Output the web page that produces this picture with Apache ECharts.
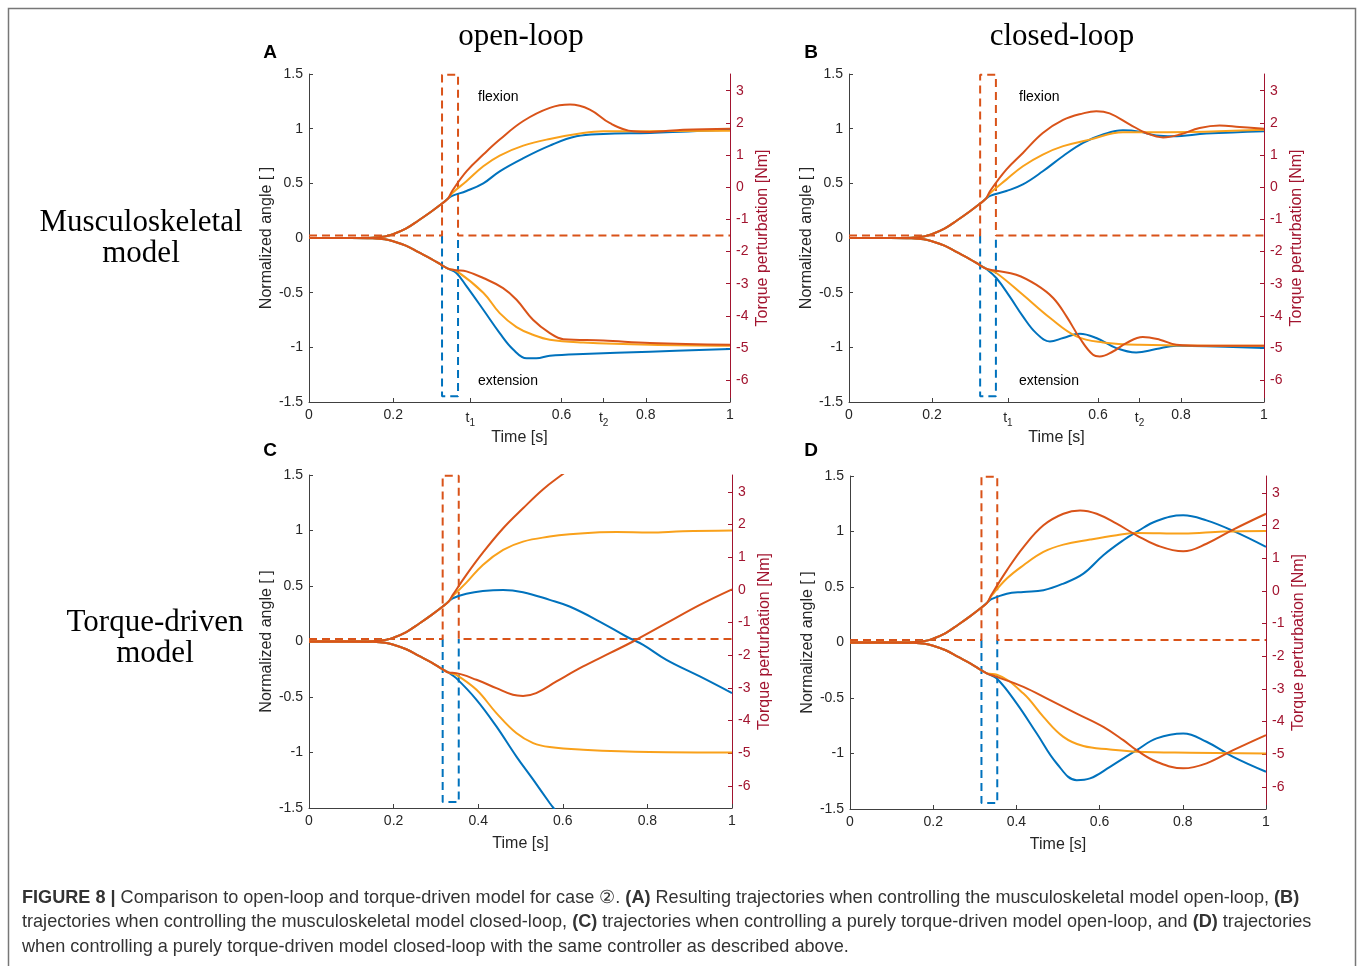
<!DOCTYPE html>
<html>
<head>
<meta charset="utf-8">
<script src="https://cdn.jsdelivr.net/npm/echarts@6/dist/echarts.min.js"></script>
<style>
  html, body { margin: 0; padding: 0; background: #fff; }
  #chart { width: 1360px; height: 966px; }
</style>
</head>
<body>
<div id="chart"></div>
<script>
// shared rise before the perturbation (time [s], normalized angle)
const riseFlex = [[0, 0], [0.1, 0], [0.15, 0.003], [0.18, 0.014], [0.2, 0.035], [0.23, 0.085], [0.26, 0.16], [0.29, 0.24], [0.316, 0.315], [0.33, 0.36]];
const riseExt = [[0, 0], [0.1, 0], [0.15, -0.003], [0.18, -0.012], [0.2, -0.03], [0.23, -0.07], [0.26, -0.13], [0.29, -0.19], [0.316, -0.25], [0.33, -0.28]];

// torque perturbation [Nm]
const torqueFlex = [[0, -1.5], [0.316, -1.5], [0.316, 3.5], [0.354, 3.5], [0.354, -1.5], [1, -1.5]];
const torqueExt = [[0.316, -1.5], [0.316, -6.5], [0.354, -6.5], [0.354, -1.5]];

// A: musculoskeletal, open-loop
const aBlueFlex = [[0.34, 0.385], [0.374, 0.43], [0.414, 0.5], [0.453, 0.61], [0.509, 0.73], [0.572, 0.845], [0.635, 0.93], [0.699, 0.952], [0.81, 0.96], [0.9, 0.975], [1, 0.99]];
const aOrangeFlex = [[0.34, 0.41], [0.374, 0.52], [0.414, 0.656], [0.453, 0.754], [0.509, 0.845], [0.572, 0.906], [0.651, 0.96], [0.699, 0.976], [0.8, 0.977], [1, 0.98]];
const aRedFlex = [[0.34, 0.43], [0.374, 0.61], [0.414, 0.763], [0.453, 0.9], [0.509, 1.07], [0.572, 1.19], [0.62, 1.22], [0.667, 1.175], [0.715, 1.05], [0.77, 0.976], [0.81, 0.97], [0.889, 0.99], [1, 1.0]];
const aBlueExt = [[0.35, -0.32], [0.374, -0.44], [0.414, -0.656], [0.453, -0.87], [0.485, -1.02], [0.517, -1.1], [0.54, -1.1], [0.572, -1.077], [0.651, -1.06], [0.81, -1.04], [1, -1.016]];
const aOrangeExt = [[0.35, -0.3], [0.414, -0.5], [0.453, -0.687], [0.493, -0.815], [0.532, -0.885], [0.572, -0.93], [0.651, -0.955], [0.81, -0.976], [1, -0.985]];
const aRedExt = [[0.35, -0.295], [0.374, -0.305], [0.414, -0.366], [0.461, -0.458], [0.493, -0.565], [0.532, -0.748], [0.572, -0.87], [0.604, -0.925], [0.699, -0.937], [0.81, -0.96], [1, -0.976]];

// B: musculoskeletal, closed-loop
const bBlueFlex = [[0.34, 0.385], [0.379, 0.43], [0.419, 0.49], [0.467, 0.61], [0.516, 0.75], [0.564, 0.87], [0.612, 0.946], [0.66, 0.985], [0.7, 0.973], [0.74, 0.937], [0.78, 0.93], [0.861, 0.955], [1, 0.977]];
const bOrangeFlex = [[0.34, 0.41], [0.379, 0.534], [0.419, 0.656], [0.467, 0.763], [0.516, 0.84], [0.58, 0.9], [0.66, 0.967], [0.74, 0.967], [1, 0.99]];
const bRedFlex = [[0.34, 0.43], [0.379, 0.626], [0.419, 0.778], [0.467, 0.96], [0.516, 1.08], [0.564, 1.14], [0.596, 1.16], [0.628, 1.14], [0.676, 1.04], [0.716, 0.96], [0.757, 0.92], [0.797, 0.946], [0.845, 1.007], [0.893, 1.03], [0.941, 1.016], [1, 1.0]];
const bBlueExt = [[0.355, -0.366], [0.387, -0.534], [0.419, -0.717], [0.451, -0.87], [0.484, -0.946], [0.516, -0.915], [0.556, -0.876], [0.596, -0.915], [0.644, -1.007], [0.692, -1.047], [0.74, -1.016], [0.789, -0.986], [0.861, -0.99], [1, -1.007]];
const bOrangeExt = [[0.355, -0.32], [0.419, -0.52], [0.484, -0.73], [0.548, -0.9], [0.612, -0.955], [0.7, -0.976], [1, -0.986]];
const bRedExt = [[0.355, -0.3], [0.403, -0.336], [0.451, -0.427], [0.492, -0.549], [0.524, -0.717], [0.556, -0.915], [0.588, -1.068], [0.604, -1.083], [0.636, -1.038], [0.668, -0.961], [0.708, -0.906], [0.749, -0.93], [0.789, -0.976], [0.861, -0.986], [1, -0.986]];

// C: torque-driven, open-loop
const cBlueFlex = [[0.34, 0.39], [0.372, 0.43], [0.411, 0.455], [0.459, 0.465], [0.506, 0.444], [0.569, 0.375], [0.616, 0.315], [0.687, 0.18], [0.75, 0.045], [0.79, -0.03], [0.845, -0.165], [0.924, -0.315], [1, -0.465]];
const cOrangeFlex = [[0.34, 0.41], [0.372, 0.53], [0.411, 0.69], [0.459, 0.825], [0.506, 0.9], [0.569, 0.945], [0.616, 0.966], [0.687, 0.984], [0.727, 0.987], [0.805, 0.981], [0.884, 0.993], [1, 1.0]];
const cRedFlex = [[0.34, 0.42], [0.372, 0.6], [0.411, 0.8], [0.459, 1.02], [0.506, 1.2], [0.553, 1.37], [0.597, 1.5], [0.64, 1.62]];
const cBlueExt = [[0.348, -0.33], [0.396, -0.525], [0.443, -0.765], [0.49, -1.035], [0.53, -1.245], [0.569, -1.455], [0.578, -1.5], [0.6, -1.6]];
const cOrangeExt = [[0.348, -0.3], [0.396, -0.435], [0.443, -0.645], [0.49, -0.825], [0.53, -0.915], [0.569, -0.951], [0.648, -0.975], [0.805, -0.996], [1, -1.0]];
const cRedExt = [[0.348, -0.285], [0.396, -0.345], [0.443, -0.42], [0.482, -0.48], [0.506, -0.49], [0.537, -0.465], [0.585, -0.36], [0.648, -0.225], [0.711, -0.105], [0.766, 0], [0.845, 0.165], [0.924, 0.33], [1, 0.47]];

// D: torque-driven, closed-loop
const dBlueFlex = [[0.34, 0.39], [0.377, 0.44], [0.417, 0.456], [0.465, 0.471], [0.513, 0.531], [0.561, 0.62], [0.609, 0.786], [0.657, 0.921], [0.689, 0.996], [0.737, 1.095], [0.801, 1.146], [0.857, 1.1], [0.921, 1.005], [1, 0.861]];
const dOrangeFlex = [[0.34, 0.42], [0.377, 0.576], [0.417, 0.696], [0.465, 0.816], [0.513, 0.882], [0.577, 0.927], [0.641, 0.966], [0.689, 0.987], [0.801, 0.981], [0.897, 0.999], [1, 1.005]];
const dRedFlex = [[0.34, 0.43], [0.377, 0.65], [0.417, 0.86], [0.465, 1.056], [0.513, 1.16], [0.553, 1.19], [0.593, 1.16], [0.641, 1.07], [0.689, 0.966], [0.737, 0.876], [0.801, 0.822], [0.857, 0.89], [0.921, 1.017], [1, 1.16]];
const dBlueExt = [[0.353, -0.324], [0.401, -0.55], [0.449, -0.82], [0.497, -1.09], [0.545, -1.24], [0.577, -1.224], [0.625, -1.12], [0.689, -0.97], [0.737, -0.864], [0.801, -0.819], [0.857, -0.894], [0.921, -1.03], [1, -1.164]];
const dOrangeExt = [[0.353, -0.29], [0.417, -0.46], [0.465, -0.67], [0.513, -0.85], [0.561, -0.933], [0.625, -0.963], [0.689, -0.984], [0.817, -0.993], [1, -0.999]];
const dRedExt = [[0.353, -0.31], [0.417, -0.4], [0.481, -0.52], [0.545, -0.64], [0.609, -0.76], [0.657, -0.88], [0.689, -0.97], [0.737, -1.074], [0.801, -1.134], [0.857, -1.089], [0.921, -0.97], [1, -0.834]];

// tick labels
const timeTicksTop = [0, 0.2, 0.383, 0.6, 0.7, 0.8, 1];
const timeLabelsTop = ['0', '0.2', '{t|t}{s|1}', '0.6', '{t|t}{s|2}', '0.8', '1'];
const timeTicksBottom = [0, 0.2, 0.4, 0.6, 0.8, 1];
const timeLabelsBottom = ['0', '0.2', '0.4', '0.6', '0.8', '1'];
const torqueTicks = [-6, -5, -4, -3, -2, -1, 0, 1, 2, 3];

const BLUE = '#0072BD', ORANGE = '#F9A11B', RED = '#D95319', DARKRED = '#A2142F', AXIS = '#404040';
const FONT = '"Liberation Sans", Arial, sans-serif';
const SERIF = '"Liberation Serif", "Times New Roman", serif';

const panels = [
  { grid: { left: 309, top: 74, width: 421, height: 328 }, ticks: timeTicksTop, labels: timeLabelsTop,
    curves: [aBlueFlex, aOrangeFlex, aRedFlex, aBlueExt, aOrangeExt, aRedExt] },
  { grid: { left: 849, top: 74, width: 415, height: 328 }, ticks: timeTicksTop, labels: timeLabelsTop,
    curves: [bBlueFlex, bOrangeFlex, bRedFlex, bBlueExt, bOrangeExt, bRedExt] },
  { grid: { left: 309, top: 475, width: 423, height: 333 }, ticks: timeTicksBottom, labels: timeLabelsBottom,
    curves: [cBlueFlex, cOrangeFlex, cRedFlex, cBlueExt, cOrangeExt, cRedExt] },
  { grid: { left: 850, top: 476, width: 416, height: 333 }, ticks: timeTicksBottom, labels: timeLabelsBottom,
    curves: [dBlueFlex, dOrangeFlex, dRedFlex, dBlueExt, dOrangeExt, dRedExt] }
];

const grids = [], xAxes = [], yAxes = [], series = [];
const curveColors = [BLUE, ORANGE, RED, BLUE, ORANGE, RED];

panels.forEach((p, i) => {
  grids.push(p.grid);
  xAxes.push({
    type: 'value', gridIndex: i, min: 0, max: 1,
    name: 'Time [s]', nameLocation: 'middle', nameGap: 28,
    nameTextStyle: { fontFamily: FONT, fontSize: 16, color: '#262626' },
    axisLine: { onZero: false, lineStyle: { color: AXIS, width: 1 } },
    axisTick: { inside: true, length: 4, lineStyle: { color: AXIS }, customValues: p.ticks },
    axisLabel: {
      customValues: p.ticks, margin: 6, fontFamily: FONT, fontSize: 14, color: '#262626',
      formatter: (v) => p.labels[p.ticks.findIndex(t => Math.abs(t - v) < 1e-6)] || '',
      rich: { t: { fontFamily: FONT, fontSize: 14, color: '#262626' }, s: { fontFamily: FONT, fontSize: 10, color: '#262626', padding: [10, 0, 0, 0] } }
    },
    splitLine: { show: false }
  });
  yAxes.push({
    type: 'value', gridIndex: i, min: -1.5, max: 1.5, interval: 0.5, position: 'left',
    name: 'Normalized angle [ ]', nameLocation: 'middle', nameGap: 33,
    nameTextStyle: { fontFamily: FONT, fontSize: 16, color: '#262626' },
    axisLine: { onZero: false, lineStyle: { color: AXIS, width: 1 } },
    axisTick: { inside: true, length: 4, lineStyle: { color: AXIS } },
    axisLabel: { margin: 6, fontFamily: FONT, fontSize: 14, color: '#262626' },
    splitLine: { show: false }
  });
  yAxes.push({
    type: 'value', gridIndex: i, min: -6.68, max: 3.52, position: 'right',
    name: 'Torque perturbation [Nm]', nameLocation: 'middle', nameGap: 25, nameRotate: 90,
    nameTextStyle: { fontFamily: FONT, fontSize: 16, color: DARKRED },
    axisLine: { show: true, onZero: false, lineStyle: { color: DARKRED, width: 1 } },
    axisTick: { inside: true, length: 4, lineStyle: { color: DARKRED }, customValues: torqueTicks },
    axisLabel: { customValues: torqueTicks, margin: 6, fontFamily: FONT, fontSize: 14, color: DARKRED },
    splitLine: { show: false }
  });
  const dash = { width: 2, type: [8, 5] };
  series.push({ type: 'line', xAxisIndex: i, yAxisIndex: 2 * i + 1, data: torqueExt, symbol: 'none', silent: true,
    lineStyle: Object.assign({ color: BLUE }, dash), z: 2 });
  series.push({ type: 'line', xAxisIndex: i, yAxisIndex: 2 * i + 1, data: torqueFlex, symbol: 'none', silent: true,
    lineStyle: Object.assign({ color: RED }, dash), z: 3 });
  p.curves.forEach((c, k) => {
    const rise = k < 3 ? riseFlex : riseExt;
    series.push({
      type: 'line', xAxisIndex: i, yAxisIndex: 2 * i, data: rise.concat(c), symbol: 'none',
      smooth: 0.4, clip: true, silent: true,
      lineStyle: { color: curveColors[k], width: 2 }, z: 4 + (k % 3)
    });
  });
});

const txt = (x, y, text, font, fill, align) => ({
  type: 'text', x: x, y: y, silent: true,
  style: { text: text, font: font, fill: fill || '#000', textAlign: align || 'center', textVerticalAlign: 'middle' }
});

const capRich = { b: { fontFamily: FONT, fontSize: 18.1, fontWeight: 'bold', color: '#333' } };
const capStyle = { fontFamily: FONT, fontSize: 18.1, fontWeight: 'normal', color: '#333', rich: capRich };

const option = {
  backgroundColor: '#fff',
  animation: false,
  title: [
    { text: '{b|FIGURE 8 |} Comparison to open-loop and torque-driven model for case \u2461. {b|(A)} Resulting trajectories when controlling the musculoskeletal model open-loop, {b|(B)}', left: 17, top: 884, textStyle: capStyle },
    { text: 'trajectories when controlling the musculoskeletal model closed-loop, {b|(C)} trajectories when controlling a purely torque-driven model open-loop, and {b|(D)} trajectories', left: 17, top: 908, textStyle: capStyle },
    { text: 'when controlling a purely torque-driven model closed-loop with the same controller as described above.', left: 17, top: 933, textStyle: capStyle }
  ],
  grid: grids,
  xAxis: xAxes,
  yAxis: yAxes,
  series: series,
  graphic: [
    { type: 'rect', silent: true, shape: { x: 8.5, y: 8.5, width: 1347, height: 980 },
      style: { fill: 'none', stroke: '#777', lineWidth: 1.5 } },
    txt(521, 37, 'open-loop', '31px ' + SERIF),
    txt(1062, 37, 'closed-loop', '31px ' + SERIF),
    txt(141, 223, 'Musculoskeletal', '31px ' + SERIF),
    txt(141, 254, 'model', '31px ' + SERIF),
    txt(155, 623, 'Torque-driven', '31px ' + SERIF),
    txt(155, 654, 'model', '31px ' + SERIF),
    txt(270, 53, 'A', 'bold 19px ' + FONT),
    txt(811, 53, 'B', 'bold 19px ' + FONT),
    txt(270, 451, 'C', 'bold 19px ' + FONT),
    txt(811, 451, 'D', 'bold 19px ' + FONT),
    txt(478, 97, 'flexion', '14px ' + FONT, '#000', 'left'),
    txt(478, 381, 'extension', '14px ' + FONT, '#000', 'left'),
    txt(1019, 97, 'flexion', '14px ' + FONT, '#000', 'left'),
    txt(1019, 381, 'extension', '14px ' + FONT, '#000', 'left')
  ]
};

const chart = echarts.init(document.getElementById('chart'), null, { renderer: 'canvas' });
chart.setOption(option);
</script>
</body>
</html>
